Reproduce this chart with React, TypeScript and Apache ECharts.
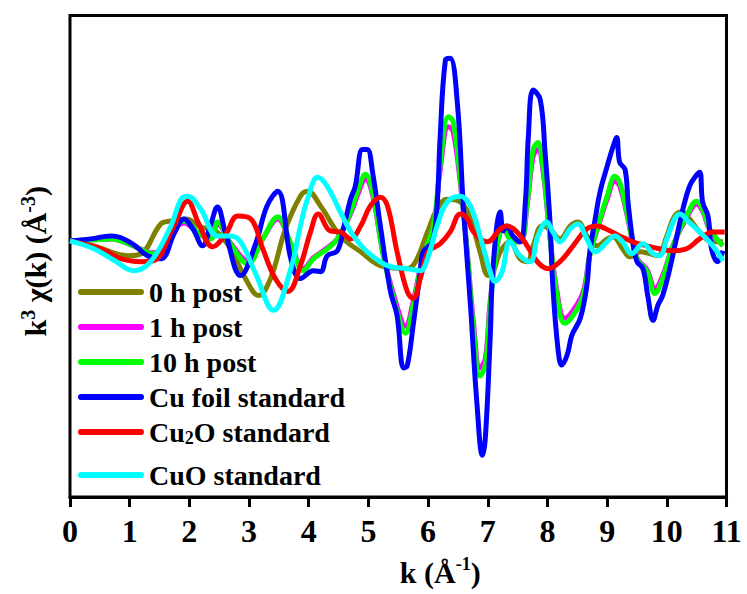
import React, { useEffect, useRef } from "react";
import * as echarts from "echarts";

const seriesNames = ["0 h post", "1 h post", "10 h post", "Cu foil standard", "Cu2O standard", "CuO standard"];
const seriesColors = ["#808000", "#ff00ff", "#00ff00", "#0000ff", "#ff0000", "#00ffff"];
const xTicks = [0, 1, 2, 3, 4, 5, 6, 7, 8, 9, 10, 11];

const olive0h: number[][] = [
  [0, 0], [0.4, -0.5], [0.97, -1.5], [1.19, -1.3], [1.52, 1.7], [1.69, 2.0], [1.94, 2.2], [2.19, 1.4], [2.44, 1.0],
  [2.69, -0.8], [2.94, -3.8], [3.16, -5.5], [3.36, -3.8], [3.61, 1.2], [3.86, 4.5], [3.98, 5.0], [4.2, 3.5],
  [4.53, 0.5], [4.87, -1.1], [5.25, -2.6], [5.65, -2.8], [5.79, -2.1], [5.99, 0.9], [6.15, 3.2], [6.32, 4.2],
  [6.54, 3.9], [6.71, 2.2], [6.87, -1.1], [7.01, -3.5], [7.09, -3.1], [7.21, -1.1], [7.37, -0.1], [7.54, -1.8],
  [7.66, -2.1], [7.76, -0.5], [7.91, 1.5], [8.04, 1.2], [8.21, 0.2], [8.38, 1.5], [8.51, 1.9], [8.66, 0.5],
  [8.83, -0.5], [9.0, 0.2], [9.1, 0.4], [9.26, -0.8], [9.38, -1.6], [9.55, -1.1], [9.72, -1.3], [9.85, -1.5],
  [10.0, 0.5], [10.13, 2.5], [10.25, 2.9], [10.38, 2.2], [10.55, 0.9], [10.77, -0.1], [10.94, -0.1],
];

const magenta1h: number[][] = [
  [0, 0], [0.35, 0.1], [0.69, 0.2], [1.02, -0.4], [1.4, -1.2], [1.91, 1.8], [2.19, 0.6], [2.36, 0.3], [2.47, 1.7],
  [2.69, -0.2], [2.98, -2.0], [3.23, 0.2], [3.48, 2.2], [3.7, -0.3], [3.91, -2.8], [4.08, -1.7], [4.31, -0.7],
  [4.48, 0.2], [4.7, 2.7], [4.83, 4.8], [4.95, 6.2], [5.07, 4.6], [5.25, -1.4], [5.48, -6.6], [5.62, -8.6],
  [5.75, -6.1], [5.92, -1.4], [6.09, 1.4], [6.2, 7.0], [6.34, 11.5], [6.42, 11.0], [6.54, 5.8], [6.66, -1.4],
  [6.76, -8.2], [6.87, -12.8], [6.96, -11.8], [7.04, -6.1], [7.16, -0.5], [7.26, 1.4], [7.37, 0.2], [7.54, -0.1],
  [7.66, 3.6], [7.76, 8.5], [7.84, 9.2], [7.93, 6.8], [8.04, 0.5], [8.16, -5.1], [8.29, -7.8], [8.43, -7.0],
  [8.6, -5.1], [8.71, -1.4], [8.88, 2.0], [9.0, 4.2], [9.13, 6.0], [9.21, 5.5], [9.33, 2.7], [9.5, -1.7],
  [9.67, -2.9], [9.8, -4.8], [9.93, -3.5], [10.1, -0.5], [10.33, 2.3], [10.5, 3.7], [10.6, 3.0], [10.72, 1.1],
  [10.94, -0.5],
];

const green10h: number[][] = [
  [0, 0], [0.35, 0.1], [0.69, 0.2], [1.02, -0.4], [1.4, -1.3], [1.91, 2.0], [2.19, 0.6], [2.36, 0.2], [2.47, 1.9],
  [2.69, -0.3], [2.98, -2.3], [3.23, 0.2], [3.48, 2.4], [3.7, -0.3], [3.91, -3.0], [4.08, -1.8], [4.31, -0.8],
  [4.48, 0.2], [4.7, 2.9], [4.83, 5.2], [4.95, 6.7], [5.07, 4.9], [5.25, -1.5], [5.48, -7.1], [5.62, -9.3],
  [5.75, -6.5], [5.92, -1.5], [6.09, 1.5], [6.2, 7.5], [6.34, 12.5], [6.42, 12.0], [6.54, 6.2], [6.66, -1.5],
  [6.76, -8.8], [6.87, -13.6], [6.96, -12.5], [7.04, -6.5], [7.16, -0.5], [7.26, 1.5], [7.37, 0.2], [7.54, -0.1],
  [7.66, 3.9], [7.76, 9.2], [7.84, 9.9], [7.93, 7.2], [8.04, 0.5], [8.16, -5.5], [8.29, -8.3], [8.43, -7.5],
  [8.6, -5.5], [8.71, -1.5], [8.88, 2.2], [9.0, 4.5], [9.13, 6.5], [9.21, 5.9], [9.33, 2.9], [9.5, -1.8],
  [9.67, -3.1], [9.8, -5.3], [9.93, -3.8], [10.1, -0.5], [10.33, 2.5], [10.5, 4.0], [10.6, 3.2], [10.72, 1.2],
  [10.94, -0.5],
];

const blueCuFoil: number[][] = [
  [0, 0], [0.35, 0.2], [0.69, 0.5], [1.02, -0.2], [1.3, -1.5], [1.52, -1.8], [1.75, 0.8], [1.91, 2.2], [2.06, 1.2],
  [2.22, -0.5], [2.35, 1.5], [2.47, 3.4], [2.61, 0.7], [2.86, -3.5], [3.11, -0.3], [3.3, 3.5], [3.48, 5.0],
  [3.7, -1.8], [3.86, -3.8], [4.08, -3.0], [4.2, -3.1], [4.31, -1.5], [4.48, -1.0], [4.58, 1.2], [4.7, 4.2],
  [4.78, 5.5], [4.9, 9.2], [4.98, 9.2], [5.07, 6.9], [5.2, 1.5], [5.37, -5.1], [5.48, -7.5], [5.59, -12.8],
  [5.65, -12.6], [5.75, -8.5], [5.87, -3.1], [5.92, -1.1], [6.07, -0.1], [6.15, 3.5], [6.2, 10.2], [6.29, 18.2],
  [6.37, 18.4], [6.49, 13.9], [6.59, 3.5], [6.71, -6.5], [6.82, -16.5], [6.91, -21.6], [6.96, -19.8], [7.04, -9.8],
  [7.09, -2.5], [7.21, 2.9], [7.26, 1.0], [7.32, 1.5], [7.42, 0.5], [7.54, -0.1], [7.63, 3.9], [7.68, 10.5],
  [7.76, 15.2], [7.88, 14.2], [7.96, 8.9], [8.04, 2.2], [8.09, -4.5], [8.18, -11.1], [8.24, -12.5], [8.33, -11.5],
  [8.41, -9.5], [8.55, -7.8], [8.66, -4.5], [8.71, -1.1], [8.8, 2.2], [8.88, 4.9], [9.0, 7.5], [9.1, 9.5],
  [9.16, 10.4], [9.21, 7.9], [9.3, 7.2], [9.35, 3.9], [9.43, -0.1], [9.5, -2.1], [9.6, -2.8], [9.68, -5.5],
  [9.77, -8.0], [9.85, -6.5], [9.93, -5.5], [10.05, -2.8], [10.17, 0.5], [10.27, 3.2], [10.38, 5.5], [10.47, 6.4],
  [10.55, 6.9], [10.6, 3.9], [10.69, 2.5], [10.75, -0.8], [10.85, -2.1], [10.94, -1.0],
];

const redCu2O: number[][] = [
  [0, 0], [0.52, -0.8], [0.85, -1.8], [1.19, -2.1], [1.4, -2.0], [1.74, 1.5], [1.97, 4.0], [2.16, 1.7],
  [2.39, -0.6], [2.61, 0.7], [2.81, 2.5], [3.03, 2.2], [3.23, -0.8], [3.44, -3.8], [3.65, -5.1], [3.86, -2.5],
  [4.03, 0.9], [4.16, 2.7], [4.36, 1.0], [4.53, 0.9], [4.7, 0.2], [4.87, 1.5], [5.03, 3.5], [5.2, 4.4],
  [5.32, 3.5], [5.48, -1.1], [5.65, -5.1], [5.75, -5.8], [5.87, -3.8], [6.0, -1.1], [6.2, -0.3], [6.37, 0.9],
  [6.54, 2.7], [6.66, 2.2], [6.76, 0.9], [6.99, -0.1], [7.21, 1.2], [7.32, 1.5], [7.49, 0.9], [7.66, -0.5],
  [7.83, -2.1], [8.01, -2.8], [8.21, -2.1], [8.43, -0.5], [8.66, 1.2], [8.83, 1.5], [9.05, 1.0], [9.21, 0.5],
  [9.43, -0.1], [9.67, -0.5], [9.88, -0.8], [10.1, -1.0], [10.33, -0.8], [10.55, 0.2], [10.77, 0.9], [10.97, 0.9],
];

const cyanCuO: number[][] = [
  [0, 0], [0.4, -0.8], [0.75, -2.0], [1.07, -3.0], [1.35, -2.1], [1.69, 1.5], [1.86, 4.2], [1.97, 4.5],
  [2.19, 3.2], [2.47, 0.5], [2.69, 0.5], [2.86, -0.1], [3.11, -3.3], [3.41, -7.0], [3.7, -2.8], [3.86, 1.5],
  [3.98, 4.2], [4.15, 6.4], [4.31, 5.5], [4.53, 2.9], [4.75, 0.5], [4.98, -1.1], [5.32, -2.5], [5.65, -2.8],
  [5.87, -3.0], [5.99, -1.8], [6.15, 1.5], [6.32, 3.9], [6.54, 4.5], [6.71, 3.5], [6.87, 0.5], [7.04, -3.1],
  [7.12, -4.1], [7.24, -3.1], [7.37, -0.1], [7.54, -1.5], [7.71, -2.1], [7.84, 0.5], [7.99, 1.9], [8.09, 0.9],
  [8.21, -0.1], [8.38, 1.2], [8.51, 1.7], [8.66, 0.2], [8.8, -1.1], [9.0, -0.1], [9.13, 0.5], [9.26, -0.1],
  [9.41, -1.3], [9.6, -0.3], [9.77, -1.3], [9.88, -1.5], [10.0, 0.2], [10.13, 2.2], [10.22, 2.7], [10.35, 2.0],
  [10.55, 0.9], [10.77, -0.5], [10.94, -2.0],
];

const allData = [olive0h, magenta1h, green10h, blueCuFoil, redCu2O, cyanCuO];

const FONT = "Liberation Serif";

export default function App() {
  const ref = useRef<HTMLDivElement>(null);
  useEffect(() => {
    document.body.style.margin = "0";
    if (!ref.current) return;
    const chart = echarts.init(ref.current, undefined, { renderer: "svg" });
    const legendText = {
      fontFamily: FONT,
      fontWeight: "bold",
      fontSize: 28,
      color: "#000",
      lineHeight: 30,
      rich: {
        sub: { fontFamily: FONT, fontWeight: "bold", fontSize: 18, lineHeight: 20, verticalAlign: "bottom", color: "#000" },
      },
    };
    const icon = "path://M3,0 H63 A3,3 0 0 1 63,6 H3 A3,3 0 0 1 3,0 Z";
    const fmt = (name: string) => (name === "Cu2O standard" ? "Cu{sub|2}O standard" : name);
    chart.setOption({
      animation: false,
      backgroundColor: "#fff",
      grid: { left: 70, right: 20.5, top: 15.5, bottom: 94, show: true, borderColor: "#000", borderWidth: 3 },
      legend: [
        {
          data: seriesNames.slice(0, 5),
          orient: "vertical",
          left: 78,
          top: 277,
          padding: 0,
          itemGap: 5,
          itemWidth: 66,
          itemHeight: 6,
          icon,
          formatter: fmt,
          textStyle: legendText,
        },
        {
          data: seriesNames.slice(5),
          orient: "vertical",
          left: 78,
          top: 460,
          padding: 0,
          itemGap: 5,
          itemWidth: 66,
          itemHeight: 6,
          icon,
          textStyle: legendText,
        },
      ],
      xAxis: {
        type: "value",
        min: xTicks[0],
        max: xTicks[xTicks.length - 1],
        interval: 1,
        name: "k (Å{sup|-1})",
        nameLocation: "middle",
        nameGap: 58,
        nameTextStyle: {
          fontFamily: FONT,
          fontWeight: "bold",
          fontSize: 30,
          color: "#000",
          lineHeight: 34,
          padding: [0, 0, 0, 84],
          rich: {
            sup: { fontFamily: FONT, fontWeight: "bold", fontSize: 18, lineHeight: 18, verticalAlign: "top", color: "#000" },
          },
        },
        axisLine: { onZero: false, lineStyle: { color: "#000", width: 3 } },
        axisTick: { show: true, inside: false, length: 10, lineStyle: { color: "#000", width: 3 } },
        axisLabel: { fontFamily: FONT, fontWeight: "bold", fontSize: 32, color: "#000", margin: 18 },
        splitLine: { show: false },
      },
      yAxis: {
        type: "value",
        min: -25.8,
        max: 22.7,
        name: "{n|k}{sup|3}{n| χ(k) (Å}{sup|-3}{n|)}",
        nameLocation: "middle",
        nameGap: 18,
        nameTextStyle: {
          fontFamily: FONT,
          fontWeight: "bold",
          fontSize: 30,
          color: "#000",
          padding: [0, 10, 0, 0],
          rich: {
            n: { fontFamily: FONT, fontWeight: "bold", fontSize: 30, lineHeight: 34, color: "#000" },
            sup: { fontFamily: FONT, fontWeight: "bold", fontSize: 20, lineHeight: 18, verticalAlign: "top", color: "#000" },
          },
        },
        axisLine: { show: false },
        axisTick: { show: false },
        axisLabel: { show: false },
        splitLine: { show: false },
      },
      series: seriesNames.map((name, i) => ({
        name,
        type: "line",
        data: allData[i],
        smooth: 0.4,
        symbol: "none",
        color: seriesColors[i],
        lineStyle: { width: 5, color: seriesColors[i] },
        z: 2 + i,
      })),
    });
    return () => chart.dispose();
  }, []);
  return <div ref={ref} style={{ width: 747, height: 594 }} />;
}
